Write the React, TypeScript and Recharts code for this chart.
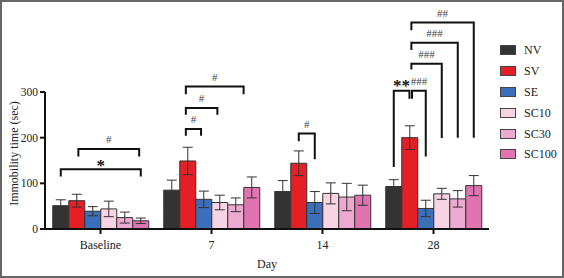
import React from 'react';
import { BarChart, Bar, XAxis, YAxis, ErrorBar, Legend } from 'recharts';

const FONT = '"Liberation Serif", "Times New Roman", serif';

const DAYS = ['Baseline', '7', '14', '28'];
const SERIES = ['NV', 'SV', 'SE', 'SC10', 'SC30', 'SC100'];
const COLORS = ['#333333', '#e41f26', '#3b6fba', '#f8d3e3', '#ecaad0', '#e074b0'];

const NV = [51, 85, 82, 93];
const NV_ERR = [13, 22, 24, 15];
const SV = [62, 149, 144, 200];
const SV_ERR = [14, 30, 27, 26];
const SE = [39, 65, 58, 45];
const SE_ERR = [10, 18, 24, 18];
const SC10 = [44, 58, 78, 77];
const SC10_ERR = [17, 16, 23, 12];
const SC30 = [25, 53, 70, 66];
const SC30_ERR = [12, 15, 30, 18];
const SC100 = [18, 91, 74, 95];
const SC100_ERR = [6, 23, 22, 22];

const Y_TICKS = [0, 100, 200, 300];

// significance brackets: day index, bar index from/to, top level, leg ends (data units), label
const BRACKET_DAY = [0, 0, 1, 1, 1, 2, 3, 3, 3, 3, 3];
const BRACKET_FROM = [0, 1.1, 0.88, 0.88, 0.88, 1, 0, 1.14, 1.1, 1.1, 1.1];
const BRACKET_TO = [5, 4.9, 1.83, 2.85, 4.49, 2, 0.98, 2, 3, 4, 5];
const BRACKET_TOP = [131, 175, 219, 265, 312, 209, 303, 303, 362, 408, 452];
const BRACKET_LEFT_END = [115, 159, 204, 250, 295, 192, 136, 285, 349, 392, 435];
const BRACKET_RIGHT_END = [115, 159, 204, 250, 295, 153, 285, 159, 199, 200, 200];
const BRACKET_LABEL = ['*', '#', '#', '#', '#', '#', '**', '###', '###', '###', '##'];

const ALL = [NV, SV, SE, SC10, SC30, SC100];
const ALL_ERR = [NV_ERR, SV_ERR, SE_ERR, SC10_ERR, SC30_ERR, SC100_ERR];

const rows = DAYS.map((d, i) => {
  const r: any = { day: d };
  SERIES.forEach((s, j) => {
    r[s] = ALL[j][i];
    r[s + '_err'] = ALL_ERR[j][i];
  });
  return r;
});

// First bar of each group also draws that group's significance brackets,
// using the bar's own pixel geometry (x, width) and the y-scale implied by its height.
const FirstBarShape = (props: any) => {
  const { x, y, width, height, payload, index, fill } = props;
  const val = payload[SERIES[0]];
  const pxPerUnit = height / val;
  const base = y + height;
  const yOf = (v: number) => base - v * pxPerUnit;
  const xOf = (k: number) => x + (k + 0.5) * width;
  const els: any[] = [];
  BRACKET_DAY.forEach((day, i) => {
    if (day !== index) return;
    const xl = xOf(BRACKET_FROM[i]);
    const xr = xOf(BRACKET_TO[i]);
    const yt = yOf(BRACKET_TOP[i]);
    const lab = BRACKET_LABEL[i];
    const star = lab.includes('*');
    els.push(
      <path
        key={`p${i}`}
        d={`M${xl},${yOf(BRACKET_LEFT_END[i])}V${yt}H${xr}V${yOf(BRACKET_RIGHT_END[i])}`}
        fill="none"
        stroke="#111"
        strokeWidth={2}
      />
    );
    els.push(
      <text
        key={`t${i}`}
        x={(xl + xr) / 2}
        y={yt - (star ? (lab === '*' ? -2 : 0) : 6)}
        textAnchor="middle"
        fontFamily={FONT}
        fontSize={star ? 17 : 11}
        fontWeight={star ? 'bold' : 'normal'}
        fill={star ? '#111' : '#444'}
      >
        {lab}
      </text>
    );
  });
  return (
    <g>
      <rect x={x} y={y} width={width} height={height} fill={fill} stroke="#333" strokeWidth={1} />
      {els}
    </g>
  );
};

const YTitle = (props: any) => {
  const vb = props.viewBox || { x: 0, y: 0, width: 0, height: 0 };
  const x = vb.x + 14;
  const y = vb.y + vb.height / 2 - 7;
  return (
    <text
      x={x}
      y={y}
      transform={`rotate(-90 ${x} ${y})`}
      textAnchor="middle"
      dominantBaseline="central"
      fontSize={12}
      fontFamily={FONT}
      fill="#222"
    >
      Immobility time (sec)
    </text>
  );
};

const LegendBox = () => (
  <div style={{ fontFamily: FONT, fontSize: 12, color: '#222' }}>
    {SERIES.map((s, i) => (
      <div key={s} style={{ display: 'flex', alignItems: 'center', height: 20.8 }}>
        <div
          style={{
            width: 16,
            height: 10,
            boxSizing: 'border-box',
            border: '1px solid #444',
            background: COLORS[i],
          }}
        />
        <span style={{ marginLeft: 8, lineHeight: '12px' }}>{s}</span>
      </div>
    ))}
  </div>
);

const BAR_GAP_FRAC = 0.07;

export default function App() {
  return (
    <div style={{ position: 'absolute', left: 0, top: 0, width: 564, height: 278, background: '#fff' }}>
      <BarChart
        width={564}
        height={278}
        data={rows}
        margin={{ top: 92, right: 75, bottom: 25, left: 0 }}
        barCategoryGap={`${BAR_GAP_FRAC * 100}%`}
        barGap={0}
      >
        <XAxis
          dataKey="day"
          height={24}
          interval={0}
          tickSize={5}
          tickMargin={6}
          axisLine={{ stroke: '#111', strokeWidth: 2 }}
          tickLine={{ stroke: '#111', strokeWidth: 2 }}
          tick={{ fill: '#222', fontSize: 12, fontFamily: FONT }}
          label={{ value: 'Day', position: 'bottom', offset: 6, fill: '#222', fontSize: 12, fontFamily: FONT }}
        />
        <YAxis
          domain={[0, 300]}
          ticks={Y_TICKS}
          width={45}
          tickSize={5}
          tickMargin={2}
          axisLine={{ stroke: '#111', strokeWidth: 2 }}
          tickLine={{ stroke: '#111', strokeWidth: 2 }}
          tick={{ fill: '#222', fontSize: 11.5, fontFamily: FONT }}
          label={<YTitle />}
        />
        {SERIES.map((s, i) => (
          <Bar
            key={s}
            dataKey={s}
            fill={COLORS[i]}
            stroke="#333"
            strokeWidth={1}
            isAnimationActive={false}
            shape={i === 0 ? FirstBarShape : undefined}
          >
            <ErrorBar dataKey={s + '_err'} width={5} stroke="#333" strokeWidth={1} />
          </Bar>
        ))}
        <Legend
          layout="vertical"
          align="center"
          verticalAlign="middle"
          wrapperStyle={{ left: 500, top: 40, width: 64, height: 130 }}
          content={() => <LegendBox />}
        />
      </BarChart>
      <div
        style={{
          position: 'absolute',
          left: 0,
          top: 0,
          width: 564,
          height: 278,
          boxSizing: 'border-box',
          border: '2px solid #666',
          pointerEvents: 'none',
        }}
      />
    </div>
  );
}
